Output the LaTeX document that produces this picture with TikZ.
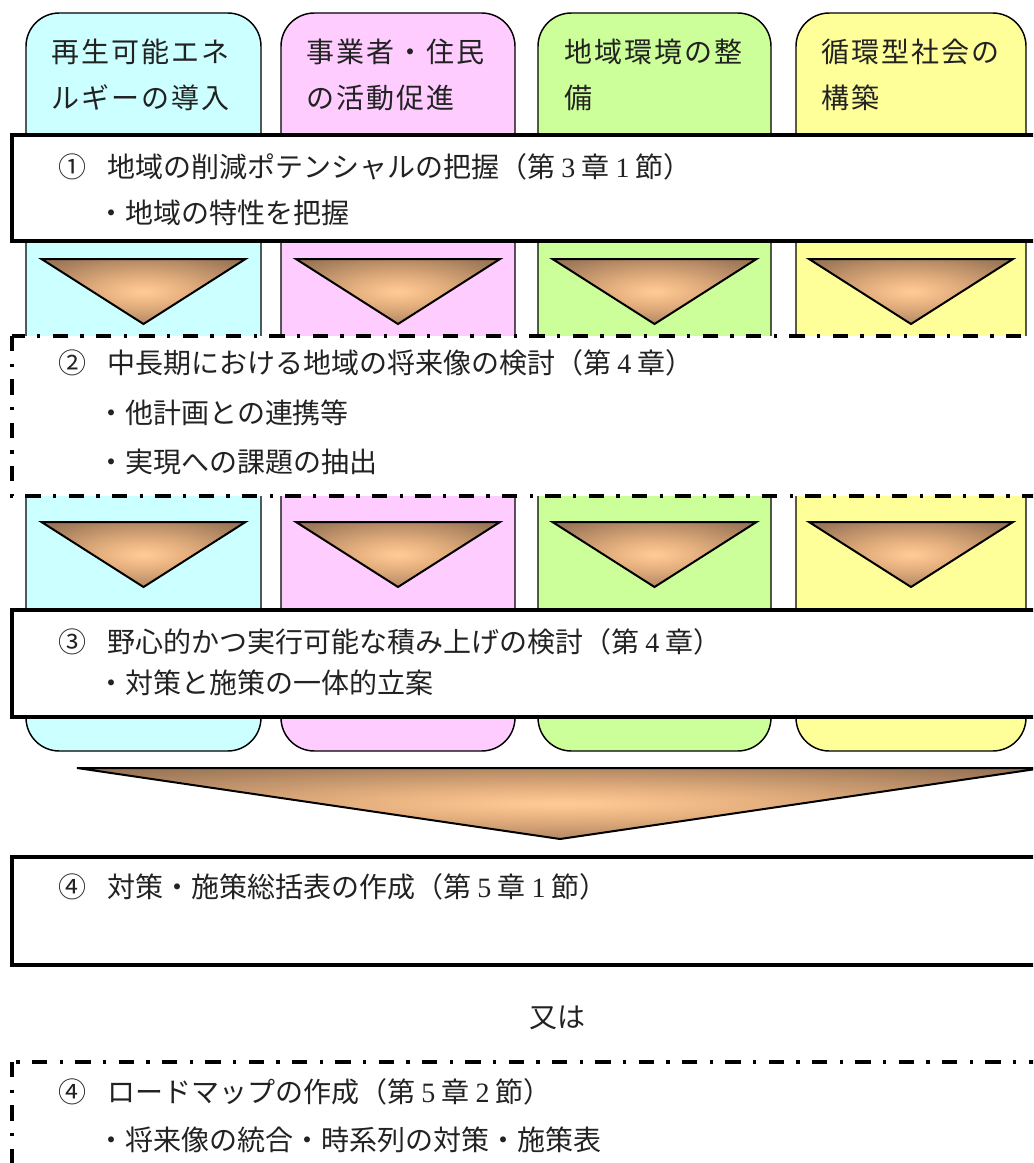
\documentclass[tikz,border=0pt]{standalone}
\usepackage{fontspec}
\setmainfont{Liberation Serif}
\newfontfamily\jp{Noto Sans CJK JP}
\newfontfamily\jphead{Noto Sans CJK JP}[LetterSpace=7]
\definecolor{ccyan}{RGB}{204,255,255}
\definecolor{cpink}{RGB}{255,204,255}
\definecolor{cgreen}{RGB}{204,255,153}
\definecolor{cyellow}{RGB}{255,255,153}
\definecolor{tcol}{RGB}{34,34,34}
\definecolor{tpeach}{RGB}{255,204,150}
\definecolor{tlight}{RGB}{232,178,128}
\definecolor{tmid}{RGB}{160,122,90}
\definecolor{tdark}{RGB}{120,90,64}
\pgfdeclareradialshading{trishade}{\pgfpoint{0bp}{0bp}}{color(0bp)=(tpeach); color(10bp)=(tlight); color(30bp)=(tmid); color(50bp)=(tdark)}
\newcommand\dg[1]{\hspace{0.22em}{\rmfamily #1}\hspace{0.22em}}
\tikzset{
  colbox/.style={draw=black, line width=1.1pt, rounded corners=25pt},
  mainbox/.style={draw=black, line width=2.6pt, fill=white},
  dashbox/.style={draw=black, line width=2.8pt, fill=white, dash pattern=on 11.5pt off 9.2pt on 2.6pt off 9.2pt},
  tri/.style={draw=black, line width=1.5pt, shading=trishade, line join=miter},
  txt/.style={anchor=base west, inner sep=0pt, font=\jp\fontsize{21pt}{25pt}\selectfont, text=tcol},
  head/.style={anchor=base west, inner sep=0pt, font=\jphead\fontsize{21pt}{25pt}\selectfont, text=tcol},
}
\begin{document}
\begin{tikzpicture}[x=0.75pt, y=-0.75pt]
\useasboundingbox (0,0) rectangle (1033,1163);
\clip (0,0) rectangle (1033,1163);
% columns
\draw[colbox, fill=ccyan] (26,13) rectangle (261,751);
\draw[colbox, fill=cpink] (281,13) rectangle (515,751);
\draw[colbox, fill=cgreen] (538,13) rectangle (771,751);
\draw[colbox, fill=cyellow] (796,13) rectangle (1026,751);
% headers
\node[head] (h1a) at (51,62.6) {再生可能エネ};
\node[head] (h1b) at (51,108.6) {ルギーの導入};
\node[head] (h2a) at (306,62.6) {事業者・住民};
\node[head] (h2b) at (306,108.6) {の活動促進};
\node[head] (h3a) at (564,62.6) {地域環境の整};
\node[head] (h3b) at (564,108.6) {備};
\node[head] (h4a) at (821,62.6) {循環型社会の};
\node[head] (h4b) at (821,108.6) {構築};
% box 1
\draw[mainbox] (12,135) rectangle (1050,241);
\node[txt] (n1) at (58,177.6) {①};
\node[txt] (t1) at (107,177.6) {地域の削減ポテンシャルの把握（第\dg{3}章\dg{1}節）};
\node[txt] (b1) at (97,223.6) {・地域の特性を把握};
% box 2
\draw[dashbox] (12,336) rectangle (1050,496);
\node[txt] (n2) at (58,373.6) {②};
\node[txt] (t2) at (107,373.6) {中長期における地域の将来像の検討（第\dg{4}章）};
\node[txt] (b2a) at (97,423.6) {・他計画との連携等};
\node[txt] (b2b) at (97,472.6) {・実現への課題の抽出};
% box 3
\draw[mainbox] (12,610) rectangle (1050,717);
\node[txt] (n3) at (58,652.6) {③};
\node[txt] (t3) at (107,652.6) {野心的かつ実行可能な積み上げの検討（第\dg{4}章）};
\node[txt] (b3) at (97,693.6) {・対策と施策の一体的立案};
% small triangles
\foreach \cx in {143.5,398,654.5,911}{
  \draw[tri] (\cx-102,259) -- (\cx+102,259) -- (\cx,324) -- cycle;
  \draw[tri] (\cx-102,522) -- (\cx+102,522) -- (\cx,587) -- cycle;
}
% big arrow
\draw[tri] (77,768) -- (1043,768) -- (560,839) -- cycle;
% box 4a
\draw[mainbox] (12,857) rectangle (1050,965);
\node[txt] (n4a) at (58,897.6) {④};
\node[txt] (t4a) at (107,897.6) {対策・施策総括表の作成（第\dg{5}章\dg{1}節）};
% or
\node[txt, anchor=base] (or) at (557,1027.6) {又は};
% box 4b
\draw[dashbox] (12,1062) rectangle (1050,1190);
\node[txt] (n4b) at (58,1102.6) {④};
\node[txt] (t4b) at (107,1102.6) {ロードマップの作成（第\dg{5}章\dg{2}節）};
\node[txt] (b4b) at (97,1150.6) {・将来像の統合・時系列の対策・施策表};
\end{tikzpicture}
\end{document}
